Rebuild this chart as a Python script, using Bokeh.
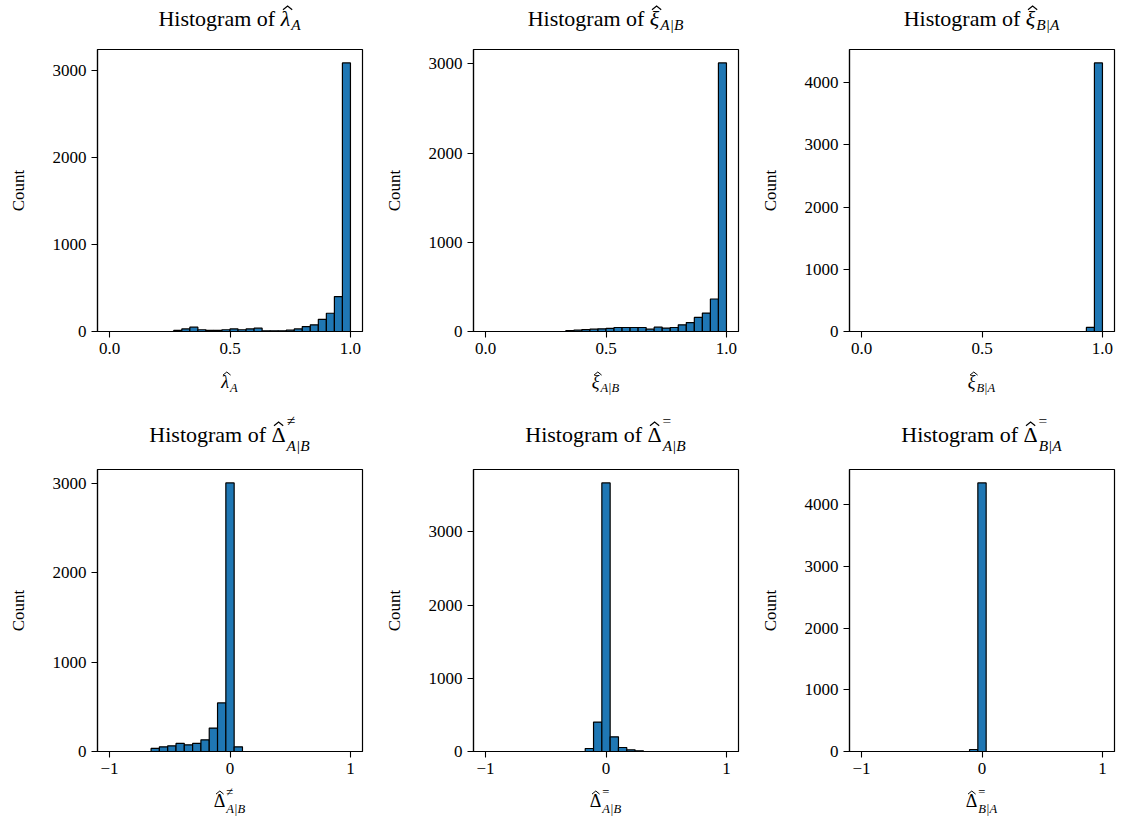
import numpy as np
from bokeh.plotting import figure
from bokeh.models import Range1d, FixedTicker, Div
from bokeh.layouts import column, row
from bokeh.embed import file_html
from bokeh.resources import INLINE

FONT = "Liberation Serif"
BAR_COLOR = "#1f77b4"

# ---------------- data (counts per bin) ----------------
top_edges = np.linspace(0.0, 1.0, 31)      # 30 bins on [0, 1]
bottom_edges = np.linspace(-1.0, 1.0, 30)  # 29 bins on [-1, 1]

lambda_A = [0, 0, 0, 0, 0, 0, 0, 0, 12, 30, 50, 20, 12, 12, 20,
            30, 20, 30, 38, 8, 8, 8, 15, 30, 57, 77, 140, 210, 402, 3090]
xi_A_given_B = [0, 0, 0, 0, 0, 0, 0, 0, 0, 0, 10, 15, 22, 26, 30,
                34, 45, 45, 45, 45, 26, 49, 38, 45, 75, 100, 158, 206, 364, 3010]
xi_B_given_A = [0] * 28 + [65, 4315]

delta_neq_A_given_B = [0, 0, 0, 0, 0, 34, 52, 64, 90, 75, 90, 131, 262, 544, 3005,
                       52, 0, 0, 0, 0, 0, 0, 0, 0, 0, 0, 0, 0, 0]
delta_eq_A_given_B = [0, 0, 0, 0, 0, 0, 0, 0, 0, 0, 0, 0, 41, 402, 3670,
                      201, 55, 23, 9, 0, 0, 0, 0, 0, 0, 0, 0, 0, 0]
delta_eq_B_given_A = [0, 0, 0, 0, 0, 0, 0, 0, 0, 0, 0, 0, 0, 32, 4350,
                      0, 0, 0, 0, 0, 0, 0, 0, 0, 0, 0, 0, 0, 0]

top_xticks = [0.0, 0.5, 1.0]
top_xtick_labels = ["0.0", "0.5", "1.0"]
bottom_xticks = [-1, 0, 1]
bottom_xtick_labels = ["\u22121", "0", "1"]
y_ticks = [0, 1000, 2000, 3000, 4000]

CELL_W = 376
FRAME_L, FW, FH = 97, 265, 282
FIG_TOP, FIG_BOTTOM = 8, 34
TITLE_SIZE, LABEL_SIZE = 22, 18


def hat(sym, italic, size):
    """Symbol as real text with a circumflex accent drawn as a small SVG chevron."""
    style = "italic" if italic else "normal"
    w = round(0.42 * size, 1)
    h = round(0.17 * size, 1)
    sw = round(0.055 * size, 2)
    skew = round(0.1 * size if italic else 0.0, 1)
    top = round(size * (0.8375 - 0.68 - 0.07) - h, 1)
    svg = (f'<svg style="position:absolute;left:50%;margin-left:{round(skew - w / 2, 1)}px;'
           f'top:{top}px;overflow:visible" width="{w}" height="{h}">'
           f'<polyline points="0,{h} {w / 2},0 {w},{h}" fill="none" stroke="black" '
           f'stroke-width="{sw}" stroke-linejoin="miter"/></svg>')
    return (f'<span style="position:relative;display:inline-block;font-style:{style}">'
            f'{sym}{svg}</span>')


def math_html(sym, italic, sub, sup, size, sup_up, sub_down):
    ss = round(size * 0.7, 1)
    s = hat(sym, italic, size)
    if sup:
        w_sup = round(0.56 * ss, 1)
        s += (f'<span style="position:relative;top:-{round(size * sup_up, 1)}px;font-size:{ss}px;'
              f'margin-left:1px">{sup}</span>')
        s += (f'<span style="position:relative;top:{round(size * sub_down, 1)}px;font-size:{ss}px;'
              f'font-style:italic;margin-left:-{w_sup}px">{sub}</span>')
    else:
        s += (f'<span style="position:relative;top:{round(size * 0.2, 1)}px;font-size:{ss}px;'
              f'font-style:italic;margin-left:1px">{sub}</span>')
    return s


def text_div(inner, height, top, size):
    html = (f'<div style="position:relative;width:{CELL_W}px;height:{height}px;'
            f'font-family:\'{FONT}\';color:black;">'
            f'<div style="position:absolute;left:{FRAME_L}px;width:{FW}px;top:{top}px;'
            f'text-align:center;font-size:{size}px;line-height:{size}px;white-space:nowrap;">'
            f'{inner}</div></div>')
    return Div(text=html, width=CELL_W, height=height, margin=0)


def panel(counts, edges, xr, xticks, xlabels):
    ymax = 1.05 * max(counts)
    p = figure(frame_width=FW, frame_height=FH, output_backend="svg",
               toolbar_location=None, title=None,
               x_range=Range1d(*xr), y_range=Range1d(0, ymax),
               min_border_left=FRAME_L, min_border_right=CELL_W - FRAME_L - FW,
               min_border_top=FIG_TOP, min_border_bottom=FIG_BOTTOM,
               background_fill_color="white", border_fill_color="white", margin=0)
    p.quad(left=edges[:-1], right=edges[1:], bottom=0, top=counts,
           fill_color=BAR_COLOR, line_color="black", line_width=1.2)

    p.xgrid.visible = False
    p.ygrid.visible = False
    p.outline_line_color = "black"
    p.outline_line_width = 1.2
    p.outline_line_alpha = 1.0

    for ax in (p.xaxis[0], p.yaxis[0]):
        ax.axis_line_color = "black"
        ax.axis_line_width = 1.2
        ax.major_tick_line_color = "black"
        ax.major_tick_line_width = 1.1
        ax.major_tick_out = 6
        ax.major_tick_in = 0
        ax.minor_tick_out = 0
        ax.minor_tick_in = 0
        ax.major_label_text_font = FONT
        ax.major_label_text_font_size = "17px"
        ax.major_label_text_color = "black"
        ax.major_label_standoff = 5

    p.xaxis.ticker = FixedTicker(ticks=xticks)
    p.xaxis.major_label_overrides = {t: l for t, l in zip(xticks, xlabels)}
    p.yaxis.ticker = FixedTicker(ticks=y_ticks)
    p.yaxis.axis_label = "Count"
    p.yaxis.axis_label_text_font = FONT
    p.yaxis.axis_label_text_font_size = "17px"
    p.yaxis.axis_label_text_font_style = "normal"
    p.yaxis.axis_label_text_color = "black"
    p.yaxis.axis_label_standoff = 22
    return p


specs_top = [
    (lambda_A, "λ", True, "A", None),
    (xi_A_given_B, "ξ", True, "A|B", None),
    (xi_B_given_A, "ξ", True, "B|A", None),
]
specs_bottom = [
    (delta_neq_A_given_B, "Δ", False, "A|B", "≠"),
    (delta_eq_A_given_B, "Δ", False, "A|B", "="),
    (delta_eq_B_given_A, "Δ", False, "B|A", "="),
]

rows = []
# top row: title div 0..41, figure 41..365 (frame 49..331), xlabel div 365..414
titles, figs, xlabs = [], [], []
for counts, sym, it, sub, sup in specs_top:
    titles.append(text_div("Histogram of " + math_html(sym, it, sub, sup, TITLE_SIZE, 0.72, 0.4),
                           41, 8, TITLE_SIZE))
    figs.append(panel(counts, top_edges, (-0.05, 1.05), top_xticks, top_xtick_labels))
    xlabs.append(text_div(math_html(sym, it, sub, sup, LABEL_SIZE, 0.6, 0.35), 49, 8, LABEL_SIZE))
rows += [row(titles, spacing=0), row(figs, spacing=0), row(xlabs, spacing=0)]

# bottom row: title div 414..461, figure 461..785 (frame 469..751), xlabel div 785..828
titles, figs, xlabs = [], [], []
for counts, sym, it, sub, sup in specs_bottom:
    titles.append(text_div("Histogram of " + math_html(sym, it, sub, sup, TITLE_SIZE, 0.72, 0.4),
                           47, 10, TITLE_SIZE))
    figs.append(panel(counts, bottom_edges, (-1.1, 1.1), bottom_xticks, bottom_xtick_labels))
    xlabs.append(text_div(math_html(sym, it, sub, sup, LABEL_SIZE, 0.6, 0.35), 43, 7, LABEL_SIZE))
rows += [row(titles, spacing=0), row(figs, spacing=0), row(xlabs, spacing=0)]

layout = column(rows, spacing=0)

open("out.html", "w").write(file_html(layout, INLINE))
